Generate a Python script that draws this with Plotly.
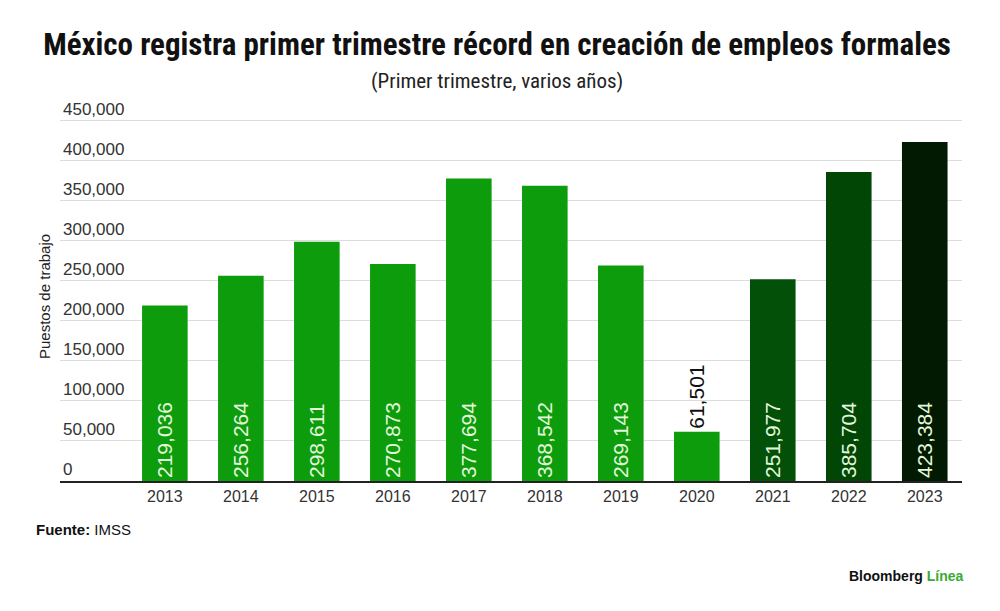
import plotly.graph_objects as go

years = ["2013", "2014", "2015", "2016", "2017", "2018", "2019", "2020", "2021", "2022", "2023"]
values = [219036, 256264, 298611, 270873, 377694, 368542, 269143, 61501, 251977, 385704, 423384]
bar_colors = ["#0c9c0c"] * 8 + ["#035008", "#024606", "#021a02"]
text_positions = ["inside"] * 7 + ["outside"] + ["inside"] * 3
tick_vals = [0, 50000, 100000, 150000, 200000, 250000, 300000, 350000, 400000, 450000]
tick_text = ["0", "50,000", "100,000", "150,000", "200,000", "250,000", "300,000", "350,000", "400,000", "450,000"]

NARROW = "Liberation Sans Narrow, Roboto Condensed, Roboto, Arial Narrow, sans-serif"
SANS = "Liberation Sans, Arial, sans-serif"

fig = go.Figure()
fig.add_trace(go.Bar(
    x=years, y=values,
    marker=dict(color=bar_colors, line=dict(width=0)),
    text=[f"{v:,}" for v in values],
    textposition=text_positions,
    insidetextanchor="start",
    textangle=-90,
    constraintext="none",
    textfont=dict(family=SANS, size=21),
    outsidetextfont=dict(family=SANS, size=21, color="#111111"),
    insidetextfont=dict(family=SANS, size=21, color="#e3f7dc"),
    cliponaxis=False,
    hoverinfo="skip",
))

fig.update_layout(
    width=1000, height=611,
    paper_bgcolor="white", plot_bgcolor="white",
    margin=dict(l=60, r=38, t=95, b=130),
    bargap=0.4,
    showlegend=False,
    title=dict(
        text="<b>México registra primer trimestre récord en creación de empleos formales</b>",
        x=0.497, xanchor="center", y=0.928, yanchor="middle",
        font=dict(family=NARROW, size=31, color="#111111"),
    ),
    xaxis=dict(
        type="category",
        range=[-1.38, 10.49],
        showgrid=False,
        showline=True, linecolor="#222222", linewidth=2,
        ticks="", tickfont=dict(family=SANS, size=16, color="#333333"),
        fixedrange=True,
    ),
    yaxis=dict(
        range=[0, 482000],
        tickvals=tick_vals, ticktext=tick_text,
        ticklabelposition="inside top",
        tickfont=dict(family=SANS, size=17, color="#333333"),
        showgrid=True, gridcolor="#dcdcdc", gridwidth=1,
        zeroline=False, showline=False, ticks="",
        fixedrange=True,
    ),
    annotations=[
        dict(text="(Primer trimestre, varios años)", xref="paper", yref="paper",
             x=0.4845, y=1.0, xanchor="center", yanchor="bottom", yshift=0, showarrow=False,
             font=dict(family=NARROW, size=21, color="#222222")),
        dict(text="Puestos de trabajo", xref="paper", yref="paper",
             x=0, y=0.5, xanchor="center", yanchor="middle", xshift=-16, yshift=-9,
             textangle=-90, showarrow=False,
             font=dict(family=SANS, size=15, color="#222222")),
        dict(text="<b>Fuente:</b> IMSS", xref="paper", yref="paper",
             x=0, y=0, xanchor="left", yanchor="middle", xshift=-26, yshift=-48, showarrow=False,
             font=dict(family=SANS, size=15, color="#111111")),
        dict(text="<b>Bloomberg <span style='color:#3aa935'>Línea</span></b>", xref="paper", yref="paper",
             x=1, y=0, xanchor="right", yanchor="middle", xshift=4, yshift=-95, showarrow=False,
             font=dict(family=SANS, size=14, color="#111111")),
    ],
)

fig.write_html("out.html", config={"displayModeBar": False},
               post_script="document.body.style.margin='0';")
